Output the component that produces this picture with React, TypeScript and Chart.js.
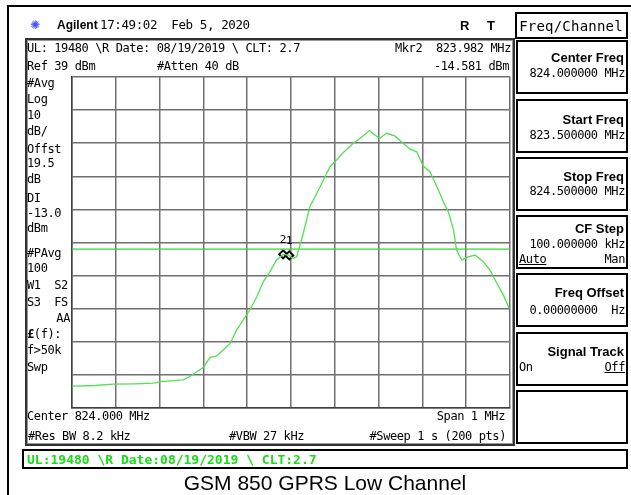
import React, { useEffect, useRef } from "react";
import { Chart, registerables } from "chart.js";

Chart.register(...registerables);

// ---- data ----
const traceFreqsMHz = [
  823.5, 823.553, 823.594, 823.644, 823.686, 823.701, 823.754, 823.769, 823.8, 823.815,
  823.83, 823.861, 823.876, 823.891, 823.906, 823.922, 823.937, 823.952, 823.967, 823.982,
  823.994, 824.004, 824.013, 824.028, 824.043, 824.059, 824.074, 824.089, 824.104, 824.119,
  824.142, 824.158, 824.179, 824.188, 824.203, 824.218, 824.237, 824.256, 824.272, 824.287,
  824.302, 824.317, 824.333, 824.348, 824.359, 824.371, 824.378, 824.39, 824.401, 824.42,
  824.439, 824.454, 824.47, 824.485, 824.498,
];
const traceLevelsDbm = [
  -54.4, -54.2, -53.8, -53.7, -53.5, -53.0, -52.5, -51.5, -48.7, -45.7,
  -45.3, -41.5, -37.4, -34.4, -31.4, -27.4, -22.8, -19.8, -16.3, -14.6,
  -14.8, -15.8, -15.3, -8.2, -0.2, 3.9, 7.9, 11.9, 13.9, 16.1,
  19.0, 20.5, 22.8, 21.8, 20.5, 22.0, 21.2, 19.0, 17.2, 16.4,
  12.1, 10.4, 5.9, 1.3, -1.7, -7.2, -13.3, -16.3, -15.5, -14.8,
  -16.8, -19.3, -23.3, -26.9, -30.9,
];
const displayLineDbm = -13.0;
const spanMHz = [823.5, 824.5];
const freqGridMHz = [823.5, 823.6, 823.7, 823.8, 823.9, 824.0, 824.1, 824.2, 824.3, 824.4, 824.5];
const levelGridDbm = [-61, -51, -41, -31, -21, -11, -1, 9, 19, 29, 39];
const markerNames = ["2", "1"];
const markerFreqsMHz = [823.982, 823.996];
const markerLevelsDbm = [-14.581, -14.9];

const W = 631;
const H = 495;

const mono: React.CSSProperties = {
  fontFamily: '"DejaVu Sans Mono", monospace',
  fontSize: 12,
  letterSpacing: -0.4,
  color: "#000",
};
const sansBold: React.CSSProperties = {
  fontFamily: '"Liberation Sans", Arial, sans-serif',
  fontWeight: "bold",
  fontSize: 13,
  letterSpacing: 0,
};

function Txt(props: {
  x: number;
  y: number;
  align?: "left" | "right" | "center";
  style?: React.CSSProperties;
  children: React.ReactNode;
}) {
  const { x, y, align = "left", style, children } = props;
  const s: React.CSSProperties = {
    position: "absolute",
    top: y,
    whiteSpace: "pre",
    lineHeight: 1,
    ...mono,
    ...style,
  };
  if (align === "left") {
    s.left = x;
    s.transform = "translateY(-50%)";
  } else if (align === "right") {
    s.right = W - x;
    s.transform = "translateY(-50%)";
  } else {
    s.left = x;
    s.transform = "translate(-50%, -50%)";
  }
  return <div style={s}>{children}</div>;
}

function Box(props: { x: number; y: number; w: number; h: number; border?: string }) {
  return (
    <div
      style={{
        position: "absolute",
        left: props.x,
        top: props.y,
        width: props.w,
        height: props.h,
        border: props.border || "2px solid #000",
        boxSizing: "border-box",
      }}
    />
  );
}

const markerLabelPlugin = {
  id: "markerLabels",
  afterDatasetsDraw(chart: any) {
    const xs = chart.scales.x;
    const ys = chart.scales.y;
    const ctx = chart.ctx;
    ctx.save();
    ctx.font = '11px "DejaVu Sans Mono", monospace';
    ctx.fillStyle = "#000";
    ctx.textAlign = "center";
    ctx.textBaseline = "middle";
    markerNames.forEach((n, i) => {
      const px = xs.getPixelForValue(markerFreqsMHz[i]);
      const py = ys.getPixelForValue(markerLevelsDbm[i]);
      ctx.fillText(n, px, py - 14);
    });
    ctx.restore();
  },
};

export default function App() {
  const ref = useRef<HTMLCanvasElement | null>(null);

  useEffect(() => {
    if (!ref.current) return;
    const chart = new Chart(ref.current, {
      type: "line",
      data: {
        datasets: [
          {
            label: "trace",
            data: traceFreqsMHz.map((f, i) => ({ x: f, y: traceLevelsDbm[i] })),
            borderColor: "#52e052",
            borderWidth: 1.3,
            pointRadius: 0,
            tension: 0,
          },
          {
            label: "DL",
            data: spanMHz.map((f) => ({ x: f, y: displayLineDbm })),
            borderColor: "#33d633",
            borderWidth: 1.2,
            pointRadius: 0,
          },
          {
            label: "markers",
            type: "scatter",
            data: markerFreqsMHz.map((f, i) => ({ x: f, y: markerLevelsDbm[i] })),
            pointStyle: "rectRot",
            pointRadius: 4,
            borderColor: "#000",
            borderWidth: 2,
            backgroundColor: "rgba(255,255,255,0.6)",
            showLine: false,
          } as any,
        ],
      },
      options: {
        responsive: false,
        animation: false,
        devicePixelRatio: 1,
        layout: { padding: { left: 72, top: 77, right: W - 510, bottom: H - 408 } },
        plugins: { legend: { display: false }, tooltip: { enabled: false } },
        events: [],
        scales: {
          x: {
            type: "linear",
            min: spanMHz[0],
            max: spanMHz[1],
            afterBuildTicks: (axis: any) => {
              axis.ticks = freqGridMHz.map((v) => ({ value: v }));
            },
            ticks: { display: false },
            grid: { color: "#707070", lineWidth: 1.5, drawTicks: false },
            border: { display: true, color: "#404040", width: 1.5 },
          },
          y: {
            type: "linear",
            min: levelGridDbm[0],
            max: levelGridDbm[levelGridDbm.length - 1],
            afterBuildTicks: (axis: any) => {
              axis.ticks = levelGridDbm.map((v) => ({ value: v }));
            },
            ticks: { display: false },
            grid: { color: "#707070", lineWidth: 1.5, drawTicks: false },
            border: { display: true, color: "#404040", width: 1.5 },
          },
        },
      },
      plugins: [markerLabelPlugin],
    });
    return () => chart.destroy();
  }, []);

  const keyTops = [40, 99, 157, 215, 273, 332, 390];

  return (
    <div
      style={{
        position: "fixed",
        left: 0,
        top: 0,
        width: W,
        height: H,
        background: "#fff",
        overflow: "hidden",
      }}
    >
      {/* outer frame */}
      <div style={{ position: "absolute", left: 8, top: 5, width: W - 8, height: 2, background: "#000" }} />
      <div style={{ position: "absolute", left: 7, top: 5, width: 2, height: H - 5, background: "#000" }} />

      {/* instrument screen frame */}
      <div
        style={{
          position: "absolute",
          left: 25,
          top: 38,
          width: 490,
          height: 408,
          border: "2px solid #333",
          boxShadow: "inset 0 0 0 1px #999",
          boxSizing: "border-box",
        }}
      />

      <canvas
        ref={ref}
        width={W}
        height={H}
        style={{ position: "absolute", left: 0, top: 0, width: W, height: H }}
      />

      {/* header */}
      <Txt x={30} y={25} style={{ fontFamily: '"DejaVu Sans", sans-serif', fontSize: 12, color: "#3f55ff", letterSpacing: 0 }}>
        ✺
      </Txt>
      <Txt x={57} y={25} style={{ ...sansBold, fontSize: 12 }}>Agilent</Txt>
      <Txt x={100} y={25} style={{ fontSize: 12.5 }}>17:49:02  Feb 5, 2020</Txt>
      <Txt x={460} y={25} style={{ ...sansBold }}>R</Txt>
      <Txt x={487} y={25} style={{ ...sansBold }}>T</Txt>

      {/* top rows */}
      <Txt x={27} y={48}>UL: 19480 \R Date: 08/19/2019 \ CLT: 2.7</Txt>
      <Txt x={511} y={48} align="right">Mkr2  823.982 MHz</Txt>
      <Txt x={27} y={66}>Ref 39 dBm</Txt>
      <Txt x={157} y={66}>#Atten 40 dB</Txt>
      <Txt x={509} y={66} align="right">-14.581 dBm</Txt>

      {/* left column */}
      <Txt x={27} y={83}>#Avg</Txt>
      <Txt x={27} y={99}>Log</Txt>
      <Txt x={27} y={115}>10</Txt>
      <Txt x={27} y={131}>dB/</Txt>
      <Txt x={27} y={149}>Offst</Txt>
      <Txt x={27} y={163}>19.5</Txt>
      <Txt x={27} y={179}>dB</Txt>
      <Txt x={27} y={198}>DI</Txt>
      <Txt x={27} y={213}>-13.0</Txt>
      <Txt x={27} y={228}>dBm</Txt>
      <Txt x={27} y={253}>#PAvg</Txt>
      <Txt x={27} y={268}>100</Txt>
      <Txt x={27} y={285}>W1  S2</Txt>
      <Txt x={27} y={302}>S3  FS</Txt>
      <Txt x={70} y={318} align="right">AA</Txt>
      <Txt x={27} y={334}>
        <span style={{ fontWeight: "bold" }}>£</span>(f):
      </Txt>
      <Txt x={27} y={350}>f&gt;50k</Txt>
      <Txt x={27} y={367}>Swp</Txt>

      {/* bottom rows */}
      <Txt x={27} y={416}>Center 824.000 MHz</Txt>
      <Txt x={505} y={416} align="right">Span 1 MHz</Txt>
      <Txt x={28} y={436}>#Res BW 8.2 kHz</Txt>
      <Txt x={229} y={436}>#VBW 27 kHz</Txt>
      <Txt x={506} y={436} align="right">#Sweep 1 s (200 pts)</Txt>

      {/* softkeys */}
      <Box x={515} y={12} w={113} h={27} />
      <Txt x={571} y={26} align="center" style={{ fontSize: 14, letterSpacing: 0.2 }}>Freq/Channel</Txt>
      {keyTops.map((t, i) => (
        <Box key={i} x={516} y={t} w={112} h={54} />
      ))}
      <Txt x={624} y={57} align="right" style={sansBold}>Center Freq</Txt>
      <Txt x={625} y={73} align="right">824.000000 MHz</Txt>
      <Txt x={624} y={119} align="right" style={sansBold}>Start Freq</Txt>
      <Txt x={625} y={135} align="right">823.500000 MHz</Txt>
      <Txt x={624} y={176} align="right" style={sansBold}>Stop Freq</Txt>
      <Txt x={625} y={191} align="right">824.500000 MHz</Txt>
      <Txt x={624} y={228} align="right" style={sansBold}>CF Step</Txt>
      <Txt x={625} y={244} align="right">100.000000 kHz</Txt>
      <Txt x={519} y={259} style={{ textDecoration: "underline" }}>Auto</Txt>
      <Txt x={625} y={259} align="right">Man</Txt>
      <Txt x={624} y={292} align="right" style={sansBold}>Freq Offset</Txt>
      <Txt x={625} y={310} align="right">0.00000000  Hz</Txt>
      <Txt x={624} y={351} align="right" style={sansBold}>Signal Track</Txt>
      <Txt x={519} y={367}>On</Txt>
      <Txt x={625} y={367} align="right" style={{ textDecoration: "underline" }}>Off</Txt>

      {/* status bar */}
      <Box x={22} y={449} w={606} h={20} />
      <Txt x={27} y={459} style={{ fontWeight: "bold", fontSize: 13, letterSpacing: 0, color: "#16dd16" }}>
        UL:19480 \R Date:08/19/2019 \ CLT:2.7
      </Txt>

      {/* caption */}
      <Txt
        x={325}
        y={482}
        align="center"
        style={{ fontFamily: '"Liberation Sans", Arial, sans-serif', fontSize: 21, letterSpacing: 0 }}
      >
        GSM 850 GPRS Low Channel
      </Txt>
    </div>
  );
}
